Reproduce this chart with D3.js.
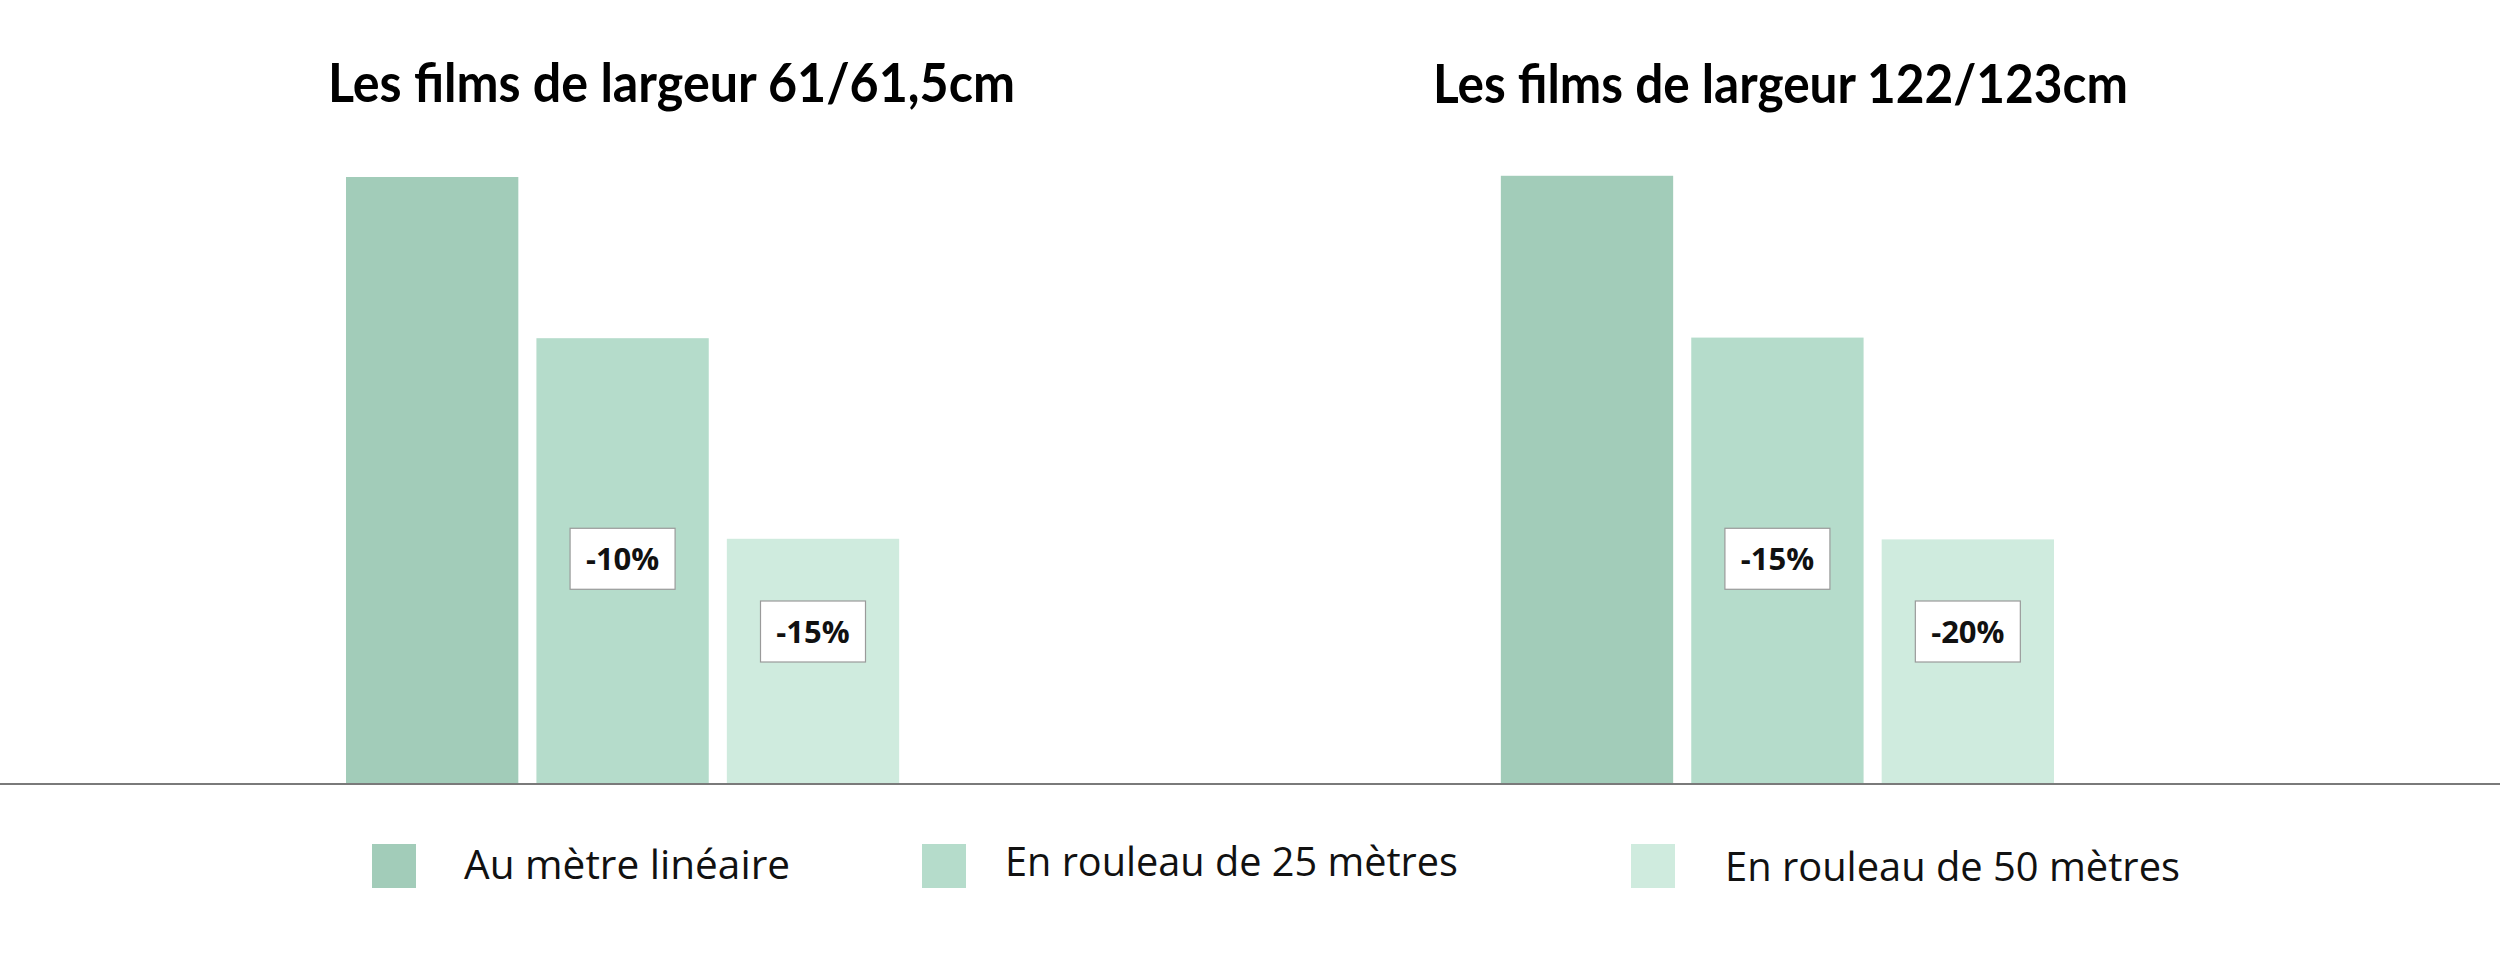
<!DOCTYPE html>
<html>
<head>
<meta charset="utf-8">
<script src="https://cdn.jsdelivr.net/npm/d3@7"></script>
<style>
  html, body { margin: 0; padding: 0; background: #fff; }
  svg { display: block; }
</style>
</head>
<body>
<div id="chart_container"></div>
<script>
// chart data
var groups = ["Les films de largeur 61/61,5cm", "Les films de largeur 122/123cm"];
var series = ["Au mètre linéaire", "En rouleau de 25 mètres", "En rouleau de 50 mètres"];
var values61 = [100, 73.4, 40.3];
var values122 = [100.2, 73.5, 40.2];
var discounts61 = ["", "-10%", "-15%"];
var discounts122 = ["", "-15%", "-20%"];
var colors = ["#a2ccb9", "#b5dccb", "#cfebde"];

function draw_chart() {
    var width = 2500,
        height = 963,
        baseline = 783;

    var svg = d3.select("#chart_container").append("svg")
        .attr("width", width)
        .attr("height", height);

    var data = groups.map(function (g, i) {
        var vals = i === 0 ? values61 : values122;
        var disc = i === 0 ? discounts61 : discounts122;
        return {
            name: g,
            bars: series.map(function (s, j) {
                return {series: s, value: vals[j], label: disc[j], idx: j};
            })
        };
    });

    var x0 = d3.scaleBand()
        .domain(groups)
        .range([346, 2054])
        .paddingInner(0.521)
        .paddingOuter(0);

    var x1 = d3.scaleBand()
        .domain(series)
        .range([0, x0.bandwidth()])
        .paddingInner(0.095)
        .paddingOuter(0);

    var y = d3.scaleLinear()
        .domain([0, 100])
        .range([baseline, 177]);

    var color = d3.scaleOrdinal()
        .domain(series)
        .range(colors);

    // titles
    var titleX = [328, 1433],
        titleY = [102, 103],
        titleLen = [687, 695];
    svg.selectAll(".title")
        .data(groups)
        .enter().append("text")
        .attr("class", "title")
        .attr("x", function (d, i) { return titleX[i]; })
        .attr("y", function (d, i) { return titleY[i]; })
        .attr("textLength", function (d, i) { return titleLen[i]; })
        .attr("lengthAdjust", "spacingAndGlyphs")
        .style("font-family", "Lato, 'Open Sans', sans-serif")
        .style("font-weight", "bold")
        .style("font-size", "53px")
        .style("fill", "#000")
        .text(function (d) { return d; });

    var group = svg.selectAll(".group")
        .data(data)
        .enter().append("g")
        .attr("class", "group")
        .attr("transform", function (d) {
            return "translate(" + x0(d.name) + ",0)";
        });

    group.selectAll(".bar")
        .data(function (d) { return d.bars; })
        .enter().append("rect")
        .attr("class", "bar")
        .attr("x", function (d) { return x1(d.series); })
        .attr("width", x1.bandwidth())
        .attr("y", function (d) { return y(d.value); })
        .attr("height", function (d) { return baseline - y(d.value); })
        .style("fill", function (d) { return color(d.series); });

    // discount boxes, placed at fixed levels inside the bars
    var labelLevel = [0, 37, 25],
        boxW = 105,
        boxH = 61;
    var labels = group.selectAll(".disc")
        .data(function (d) { return d.bars.filter(function (b) { return b.label; }); })
        .enter().append("g")
        .attr("class", "disc")
        .attr("transform", function (d) {
            return "translate(" + (x1(d.series) + x1.bandwidth() / 2) + "," + y(labelLevel[d.idx]) + ")";
        });

    labels.append("rect")
        .attr("x", -boxW / 2)
        .attr("y", -boxH / 2)
        .attr("width", boxW)
        .attr("height", boxH)
        .style("fill", "#fff")
        .style("stroke", "#9a9a9a")
        .style("stroke-width", 1.2);

    labels.append("text")
        .attr("text-anchor", "middle")
        .attr("y", 11)
        .style("font-family", "'Open Sans', sans-serif")
        .style("font-weight", "bold")
        .style("font-size", "31px")
        .style("fill", "#111")
        .text(function (d) { return d.label; });

    // baseline axis
    svg.append("line")
        .attr("x1", 0)
        .attr("x2", width)
        .attr("y1", 784)
        .attr("y2", 784)
        .style("stroke", "#7a7a7a")
        .style("stroke-width", 2);

    // legend
    var legendX = [372, 922, 1631],
        textX = [464, 1005, 1725],
        textY = [879, 876, 881],
        textLen = [326, 453, 455];
    var legend = svg.selectAll(".legend")
        .data(series)
        .enter().append("g")
        .attr("class", "legend");

    legend.append("rect")
        .attr("x", function (d, i) { return legendX[i]; })
        .attr("y", 844)
        .attr("width", 44)
        .attr("height", 44)
        .style("fill", function (d) { return color(d); });

    legend.append("text")
        .attr("x", function (d, i) { return textX[i]; })
        .attr("y", function (d, i) { return textY[i]; })
        .attr("textLength", function (d, i) { return textLen[i]; })
        .attr("lengthAdjust", "spacingAndGlyphs")
        .style("font-family", "'Open Sans', sans-serif")
        .style("font-size", "40px")
        .style("fill", "#111")
        .text(function (d) { return d; });
}

draw_chart();
</script>
</body>
</html>
